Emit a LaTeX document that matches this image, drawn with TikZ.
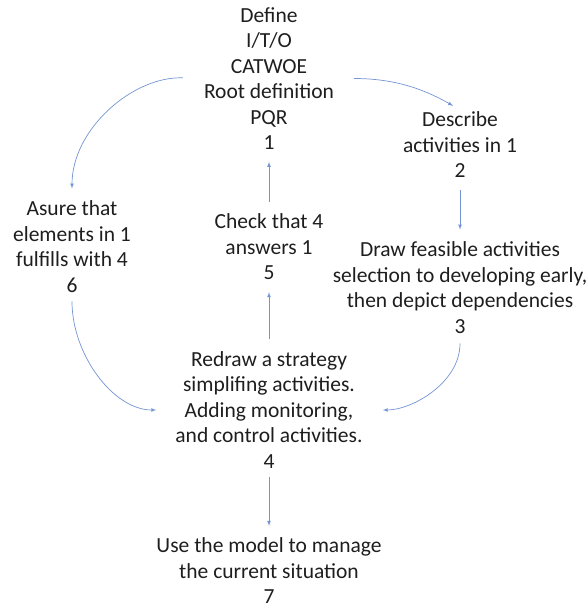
\documentclass[tikz,border=0pt]{standalone}
\usepackage{fontspec}
\setmainfont{Carlito}
\usepackage{tikz}

\definecolor{linkblue}{RGB}{68,114,196}
\definecolor{textgray}{RGB}{30,30,30}

\begin{document}
\begin{tikzpicture}[x=1pt,y=-1pt]

\tikzstyle{every node}=[font=\fontsize{21.5}{25.5}\selectfont, text=textgray, align=center, inner sep=2pt]
\tikzstyle{link}=[->, >=latex, draw=linkblue!75, line width=0.7pt, shorten >=10pt, shorten <=10pt]

\useasboundingbox (0,0) rectangle (587,606);

% three columns
\pgfmathsetmacro\xl{72}
\pgfmathsetmacro\xm{269}
\pgfmathsetmacro\xr{460}

\node (define) at (\xm, 78.5) {Define\\ I/T/O\\ CATWOE\\ Root definition\\ PQR\\ 1};

\node (describe) at (\xr, 145) {Describe\\ activities in 1\\ 2};

\node (feasible) at (\xr, 287.5) {Draw feasible activities\\ selection to developing early,\\ then depict dependencies\\ 3};

\node (check) at (\xm, 247) {Check that 4\\ answers 1\\ 5};

\node (asure) at (\xl, 246.5) {Asure that\\ elements in 1\\ fulfills with 4\\ 6};

\node (redraw) at (\xm, 410) {Redraw a strategy\\ simplifing activities.\\ Adding monitoring,\\ and control activities.\\ 4};

\node (use) at (\xm, 571) {Use the model to manage\\ the current situation\\ 7};

\draw[link, shorten <=18pt, shorten >=8pt] (define.east) to[out=0, in=150] (describe.north);
\draw[link, shorten <=19pt] (define.west) to[out=178, in=90] (asure.north);
\draw[link] (describe) -- (feasible);
\draw[link] (check) -- (define);
\draw[link] (redraw) -- (check);
\draw[link, shorten <=6pt] (redraw) -- (use);

\draw[link, shorten <=7pt, shorten >=17pt] (asure.south) to[out=-90, in=180] (redraw.west);
\draw[link, shorten <=8pt, shorten >=18pt] (feasible.south) to[out=-90, in=0] (redraw.east);

\end{tikzpicture}
\end{document}
